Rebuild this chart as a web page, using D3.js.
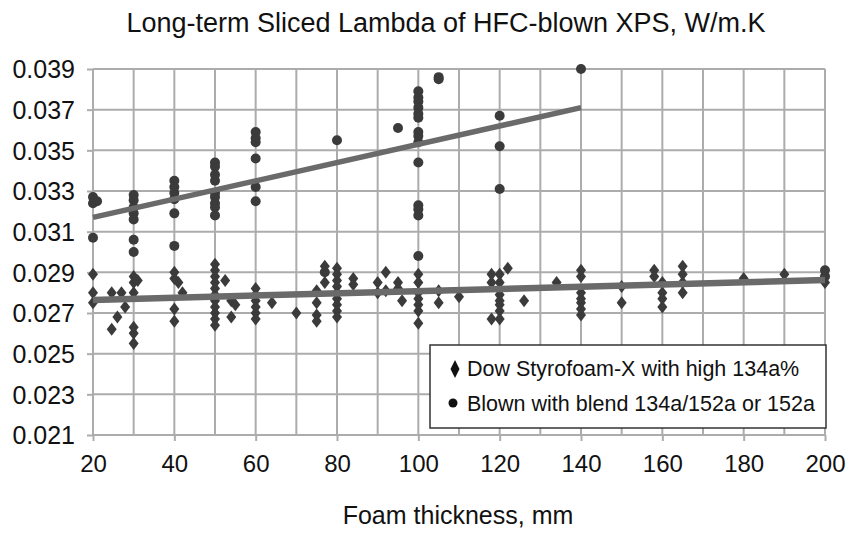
<!DOCTYPE html>
<html>
<head>
<meta charset="utf-8">
<script src="https://cdn.jsdelivr.net/npm/d3@7/dist/d3.min.js"></script>
<style>
  html, body { margin: 0; padding: 0; background: #fff; }
  svg { display: block; font-family: "Liberation Sans", Arial, Helvetica, sans-serif; }
</style>
</head>
<body>
<svg id="chart" width="852" height="533"></svg>
<script>
// Tick values
const xTicks = [20, 40, 60, 80, 100, 120, 140, 160, 180, 200];
const yTicks = [0.021, 0.023, 0.025, 0.027, 0.029, 0.031, 0.033, 0.035, 0.037, 0.039];
const xGrid = d3.range(20, 201, 10);

// Dow Styrofoam-X with high 134a% : [thickness mm, lambda W/m.K]
const dowPoints = [
  [20, 0.0289], [20, 0.0280], [20, 0.0275],
  [24.6, 0.0280], [24.6, 0.0262], [26, 0.0268], [27, 0.0280], [27.9, 0.0273],
  [30, 0.0288], [30, 0.0285], [30, 0.0280], [30, 0.0263], [30, 0.0260], [30, 0.0255], [31, 0.0286],
  [40, 0.0290], [40, 0.0287], [40, 0.0272], [40, 0.0266], [41, 0.0285], [42, 0.0280],
  [50, 0.0294], [50, 0.0291], [50, 0.0288], [50, 0.0285], [50, 0.0282], [50, 0.0279],
  [50, 0.0276], [50, 0.0273], [50, 0.0270], [50, 0.0267], [50, 0.0264],
  [52.5, 0.0286], [54, 0.0276], [54, 0.0268], [55, 0.0274],
  [60, 0.0282], [60, 0.0279], [60, 0.0276], [60, 0.0273], [60, 0.0270], [60, 0.0267],
  [64, 0.0275], [70, 0.0270],
  [75, 0.0281], [75, 0.0275], [75, 0.0269], [75, 0.0266], [77, 0.0293], [77, 0.0285],
  [80, 0.0292], [80, 0.0289], [80, 0.0286], [80, 0.0283], [80, 0.0280], [80, 0.0277],
  [80, 0.0274], [80, 0.0271], [80, 0.0268],
  [84, 0.0287], [84, 0.0284], [90, 0.0285], [90, 0.0280], [92, 0.0290], [92, 0.0281],
  [95, 0.0285], [95, 0.0282], [96, 0.0276],
  [100, 0.0289], [100, 0.0285], [100, 0.0280], [100, 0.0277], [100, 0.0274], [100, 0.0271], [100, 0.0265],
  [105, 0.0281], [105, 0.0275], [110, 0.0278],
  [118, 0.0289], [118, 0.0285], [118, 0.0267],
  [120, 0.0289], [120, 0.0285], [120, 0.0279], [120, 0.0276], [120, 0.0274], [120, 0.0271], [120, 0.0267],
  [122, 0.0292], [126, 0.0276], [134, 0.0285],
  [140, 0.0291], [140, 0.0288], [140, 0.0280], [140, 0.0277], [140, 0.0275], [140, 0.0272], [140, 0.0269],
  [150, 0.0283], [150, 0.0275], [158, 0.0291], [158, 0.0288],
  [160, 0.0285], [160, 0.0280], [160, 0.0277], [160, 0.0273],
  [165, 0.0293], [165, 0.0289], [165, 0.0285], [165, 0.0280],
  [180, 0.0287], [190, 0.0289], [200, 0.0285]
];

// Blown with blend 134a/152a or 152a : [thickness mm, lambda W/m.K]
const blendPoints = [
  [20, 0.0327], [20, 0.0324], [21, 0.0325], [20, 0.0307],
  [30, 0.0328], [30, 0.03255], [30, 0.0322], [30, 0.0319], [30, 0.0316], [30, 0.0306], [30, 0.0300],
  [40, 0.0335], [40, 0.0332], [40, 0.0329], [40, 0.0326], [40, 0.0319], [40, 0.0303],
  [50, 0.0344], [50, 0.0342], [50, 0.0338], [50, 0.0335], [50, 0.0329], [50, 0.0327],
  [50, 0.0324], [50, 0.0322], [50, 0.0318],
  [60, 0.0359], [60, 0.0356], [60, 0.0354], [60, 0.0346], [60, 0.0332], [60, 0.0325],
  [77, 0.0290], [80, 0.0355], [95, 0.0361],
  [100, 0.0379], [100, 0.0376], [100, 0.0374], [100, 0.0371], [100, 0.0368], [100, 0.0366],
  [100, 0.0359], [100, 0.0357], [100, 0.0354], [100, 0.0344],
  [100, 0.0323], [100, 0.0321], [100, 0.0318], [100, 0.0298],
  [105, 0.0386], [105, 0.0385],
  [120, 0.0367], [120, 0.0352], [120, 0.0331],
  [140, 0.0390], [200, 0.0291], [200, 0.0288]
];

// Linear trend lines: [thickness, lambda] at each end
const blendTrend = [[20, 0.0317], [140, 0.0371]];
const dowTrend = [[20, 0.02764], [200, 0.02862]];

const svg = d3.select("#chart");
const x = d3.scaleLinear().domain([20, 200]).range([93, 825]);
const y = d3.scaleLinear().domain([0.021, 0.039]).range([435, 69]);

const gridColor = "#acacac";
const markColor = "#3b3b3b";
const lineColor = "#6a6a6a";

// grid
const grid = svg.append("g");
grid.selectAll(".vx").data(xGrid).join("line")
  .attr("x1", d => x(d)).attr("x2", d => x(d))
  .attr("y1", y(0.039)).attr("y2", y(0.021))
  .attr("stroke", gridColor).attr("stroke-width", 2);
grid.selectAll(".hy").data(yTicks).join("line")
  .attr("x1", x(20)).attr("x2", x(200))
  .attr("y1", d => y(d)).attr("y2", d => y(d))
  .attr("stroke", gridColor).attr("stroke-width", 2);

// axes
const xAxis = svg.append("g").attr("transform", `translate(0,${y(0.021)})`)
  .call(d3.axisBottom(x).tickValues(xTicks).tickSize(6).tickSizeOuter(0).tickPadding(8));
const yAxis = svg.append("g").attr("transform", `translate(${x(20)},0)`)
  .call(d3.axisLeft(y).tickValues(yTicks).tickFormat(d3.format(".3f")).tickSize(6).tickSizeOuter(0).tickPadding(12));
[xAxis, yAxis].forEach(a => {
  a.select(".domain").remove();
  a.selectAll(".tick line").attr("stroke", gridColor).attr("stroke-width", 2);
  a.selectAll(".tick text").attr("fill", "#111")
    .style("font-family", '"Liberation Sans", Arial, sans-serif');
});
xAxis.selectAll(".tick text").style("font-size", "24px").attr("dy", "0.95em");
yAxis.selectAll(".tick text").style("font-size", "25px").attr("dy", "0.35em");

// markers
const diamond = (w, h) => `M0,${-h}L${w},0L0,${h}L${-w},0Z`;
svg.append("g").selectAll("path").data(dowPoints).join("path")
  .attr("transform", d => `translate(${x(d[0])},${y(d[1])})`)
  .attr("d", diamond(5, 6.5))
  .attr("fill", markColor);
svg.append("g").selectAll("circle").data(blendPoints).join("circle")
  .attr("cx", d => x(d[0])).attr("cy", d => y(d[1])).attr("r", 5)
  .attr("fill", markColor);

// trend lines
const line = d3.line().x(d => x(d[0])).y(d => y(d[1]));
svg.append("path").datum(blendTrend).attr("d", line)
  .attr("fill", "none").attr("stroke", lineColor).attr("stroke-width", 5.5);
svg.append("path").datum(dowTrend).attr("d", line)
  .attr("fill", "none").attr("stroke", lineColor).attr("stroke-width", 6.5);

// title and axis title
svg.append("text").attr("x", 446).attr("y", 32).attr("text-anchor", "middle")
  .style("font-size", "27px").attr("fill", "#111")
  .text("Long-term Sliced Lambda of HFC-blown XPS, W/m.K");
svg.append("text").attr("x", 458).attr("y", 524).attr("text-anchor", "middle")
  .style("font-size", "25px").attr("fill", "#111")
  .text("Foam thickness, mm");

// legend
const lg = svg.append("g");
lg.append("rect").attr("x", 430).attr("y", 345).attr("width", 396).attr("height", 83)
  .attr("fill", "#fff").attr("stroke", "#333").attr("stroke-width", 1.5);
lg.append("path").attr("transform", "translate(455,369)").attr("d", diamond(4.5, 9)).attr("fill", "#111");
lg.append("circle").attr("cx", 453).attr("cy", 403).attr("r", 4.5).attr("fill", "#111");
lg.append("text").attr("x", 467).attr("y", 376).style("font-size", "21.5px").attr("fill", "#111")
  .text("Dow Styrofoam-X with high 134a%");
lg.append("text").attr("x", 467).attr("y", 411).style("font-size", "21.5px").attr("fill", "#111")
  .text("Blown with blend 134a/152a or 152a");
</script>
</body>
</html>
